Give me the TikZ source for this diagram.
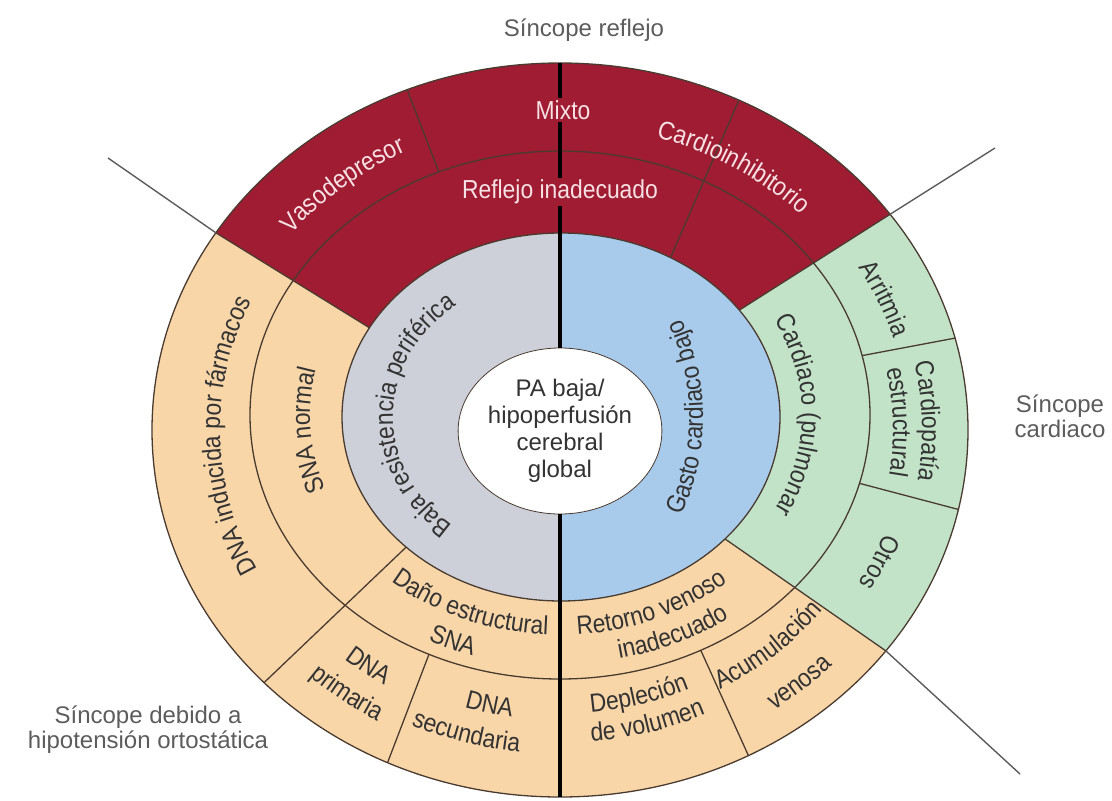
\documentclass[tikz,border=0pt]{standalone}
\usepackage{fontspec}
\setmainfont{Liberation Sans}
\newfontfamily\condfont{Liberation Sans}[FakeStretch=0.88]
\usetikzlibrary{calc,shapes.geometric,decorations.text}
\definecolor{reflexred}{HTML}{A01C32}
\definecolor{orthopeach}{HTML}{F9D6A8}
\definecolor{cardgreen}{HTML}{C2E3C8}
\definecolor{lowgrey}{HTML}{CDD0D9}
\definecolor{lowblue}{HTML}{A8CBEB}
\definecolor{ringline}{HTML}{4A3B30}
\definecolor{guidegray}{HTML}{5C5C5C}
\definecolor{labeldark}{HTML}{333333}
\definecolor{labelpink}{HTML}{F7E1E4}
\begin{document}
\begin{tikzpicture}
[
 x=0.5pt, y=0.5pt,
 ring/.style={draw=ringline,line width=0.65pt},
 guide/.style={draw=guidegray,line width=0.7pt},
 vline/.style={draw=black,line width=1.8pt},
 lbl/.style={decorate,decoration={text along path,text align=center,text color=labeldark,text={|\condfont\fontsize{13}{14}\selectfont|#1}}},
 wlbl/.style={decorate,decoration={text along path,text align=center,text color=labelpink,text={|\condfont\fontsize{13}{14}\selectfont|#1}}},
 flat/.style={fill=reflexred,text=labelpink,inner sep=1pt,font=\condfont\fontsize{13}{14}\selectfont},
 tag/.style={text=guidegray,align=center,font=\fontsize{12}{12.5}\selectfont},
 core/.style={draw=ringline,fill=white,ellipse,minimum width=93pt,minimum height=83pt,inner sep=0pt,align=center,text=labeldark,font=\fontsize{12}{13.5}\selectfont}
]
\useasboundingbox (0,0) rectangle (1112,800);
\coordinate (c1) at (560,369);
\coordinate (c2) at (561,383);
\coordinate (c3) at (560,385);
\coordinate (c4) at (560,370);

\fill[reflexred] ($(c2)+(35.5:219 and 184)$) -- ($(c4)+(36:408 and 367)$) arc[start angle=36,end angle=147.5,x radius=408,y radius=367] -- ($(c2)+(151:219 and 184)$) arc[start angle=151,end angle=35.5,x radius=219,y radius=184] -- cycle;
\fill[orthopeach] ($(c2)+(151:219 and 184)$) -- ($(c4)+(147.5:408 and 367)$) arc[start angle=147.5,end angle=323,x radius=408,y radius=367] -- ($(c2)+(318.5:219 and 184)$) arc[start angle=318.5,end angle=151,x radius=219,y radius=184] -- cycle;
\fill[cardgreen] ($(c2)+(-41.5:219 and 184)$) -- ($(c4)+(-37:408 and 367)$) arc[start angle=-37,end angle=36,x radius=408,y radius=367] -- ($(c2)+(35.5:219 and 184)$) arc[start angle=35.5,end angle=-41.5,x radius=219,y radius=184] -- cycle;
\fill[lowgrey] ($(c2)+(90:219 and 184)$) arc[start angle=90,end angle=270,x radius=219,y radius=184] -- cycle;
\fill[lowblue] ($(c2)+(-90:219 and 184)$) arc[start angle=-90,end angle=90,x radius=219,y radius=184] -- cycle;

\draw[ring] (c2) ellipse[x radius=219,y radius=184];
\draw[ring] (c3) ellipse[x radius=310,y radius=264];
\draw[ring] (c4) ellipse[x radius=408,y radius=367];
\foreach \a/\b in {151/147.5,35.5/36,-41.5/-37,225/223.5,60/64}
  \draw[ring] ($(c2)+(\a:219 and 184)$) -- ($(c4)+(\b:408 and 367)$);
\foreach \a/\b in {113/112,245/245,297/297.5,13/14.5,-15/-12.5}
  \draw[ring] ($(c3)+(\a:310 and 264)$) -- ($(c4)+(\b:408 and 367)$);

\coordinate (ul-corner) at ($(c4)+(147.5:408 and 367)$);
\coordinate (ur-corner) at ($(c4)+(36:408 and 367)$);
\coordinate (lr-corner) at ($(c4)+(-37:408 and 367)$);
\coordinate (ul-end) at (108,642);
\coordinate (ur-end) at (995,652);
\coordinate (lr-end) at (1020,26);
\draw[guide] (ul-corner) -- (ul-end);
\draw[guide] (ur-corner) -- (ur-end);
\draw[guide] (lr-corner) -- (lr-end);

\coordinate (top-axis) at ($(c4)+(90:408 and 367)$);
\coordinate (bottom-axis) at ($(c4)+(270:408 and 367)$);
\node[core] (core) at (c1) {PA baja/\\hipoperfusión\\cerebral\\global};
\draw[vline] (top-axis) -- (core.north);
\draw[vline] (core.south) -- (bottom-axis);

\coordinate (flat-c2) at ($(c2)+(-150,0)$);
\path[lbl={Baja resistencia periférica}] ($(c2)+(240:168 and 142)$) arc[start angle=240,end angle=118,x radius=168,y radius=142];
\path[lbl={Gasto cardiaco bajo}] ($(flat-c2)+(-27:292 and 262)$) arc[start angle=-27,end angle=27,x radius=292,y radius=262];

\path[lbl={SNA normal}] ($(c3)+(207:250 and 213)$) arc[start angle=207,end angle=161,x radius=250,y radius=213];
\path[lbl={Cardiaco (pulmonar}] ($(c3)+(36:242 and 206)$) arc[start angle=36,end angle=-36,x radius=242,y radius=206];
\path[lbl={Daño estructural}] ($(c3)+(220:259 and 220)$) arc[start angle=220,end angle=276,x radius=259,y radius=220];
\path[lbl={SNA}] ($(c3)+(236:295 and 252)$) arc[start angle=236,end angle=260,x radius=295,y radius=252];
\path[lbl={Retorno venoso}] ($(c3)+(265:259 and 220)$) arc[start angle=265,end angle=320,x radius=259,y radius=220];
\path[lbl={inadecuado}] ($(c3)+(270:292 and 249)$) arc[start angle=270,end angle=318,x radius=292,y radius=249];

\path[wlbl={Vasodepresor}] ($(c4)+(152:346 and 311)$) arc[start angle=152,end angle=106,x radius=346,y radius=311];
\path[wlbl={Cardioinhibitorio}] ($(c4)+(83:340 and 305)$) arc[start angle=83,end angle=35,x radius=340,y radius=305];
\path[lbl={DNA inducida por fármacos}] ($(c4)+(227:340 and 305)$) arc[start angle=227,end angle=135,x radius=340,y radius=305];
\path[lbl={Arritmia}] ($(c4)+(37:349 and 314)$) arc[start angle=37,end angle=11,x radius=349,y radius=314];
\path[lbl={Cardiopatía}] ($(c4)+(16:362 and 326)$) arc[start angle=16,end angle=-13,x radius=362,y radius=326];
\path[lbl={estructural}] ($(c4)+(16:333 and 299)$) arc[start angle=16,end angle=-13,x radius=333,y radius=299];
\path[lbl={Otros}] ($(c4)+(-11:344 and 309)$) arc[start angle=-11,end angle=-38,x radius=344,y radius=309];
\path[lbl={DNA}] ($(c4)+(223:334 and 300)$) arc[start angle=223,end angle=245,x radius=334,y radius=300];
\path[lbl={primaria}] ($(c4)+(223:371 and 334)$) arc[start angle=223,end angle=245,x radius=371,y radius=334];
\path[lbl={DNA}] ($(c4)+(246:322 and 290)$) arc[start angle=246,end angle=268,x radius=322,y radius=290];
\path[lbl={secundaria}] ($(c4)+(242:360 and 324)$) arc[start angle=242,end angle=267,x radius=360,y radius=324];
\path[lbl={Depleción}] ($(c4)+(271:315 and 284)$) arc[start angle=271,end angle=299,x radius=315,y radius=284];
\path[lbl={de volumen}] ($(c4)+(271:348 and 313)$) arc[start angle=271,end angle=299,x radius=348,y radius=313];
\path[lbl={Acumulación}] ($(c4)+(296:330 and 297)$) arc[start angle=296,end angle=326,x radius=330,y radius=297];
\path[lbl={venosa}] ($(c4)+(297:378 and 340)$) arc[start angle=297,end angle=324,x radius=378,y radius=340];

\node[flat] (mixed) at (563,690) {Mixto};
\node[flat] (reflex-ring) at (560,608) {Reflejo inadecuado};

\node[tag] (reflex-tag) at (584,770) {Síncope reflejo};
\node[tag] (cardiac-tag) at (1060,384) {Síncope\\cardiaco};
\node[tag] (ortho-tag) at (148,70) {Síncope debido a\\hipotensión ortostática};
\end{tikzpicture}
\end{document}
